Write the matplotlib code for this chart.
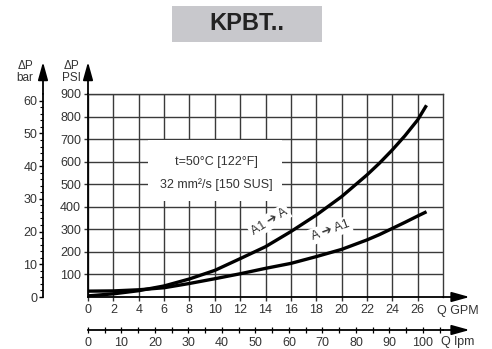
import matplotlib.pyplot as plt
from matplotlib.patches import Rectangle
import numpy as np

plt.rcParams["font.family"] = ["Liberation Sans", "DejaVu Sans"]
plt.rcParams["font.size"] = 9
plt.rcParams["text.color"] = "#333333"

# flow in GPM and pressure drop in PSI
flow_gpm = [0, 2, 4, 6, 8, 10, 12, 14, 16, 18, 20, 22, 23, 24, 25, 26, 26.7]
dp_a1_to_a = [5, 14, 28, 49, 80, 118, 170, 223, 290, 363, 445, 541, 594, 652, 715, 785, 850]
dp_a_to_a1 = [26, 27, 32, 41, 60, 81, 103, 127, 149, 179, 211, 253, 277, 304, 331, 359, 378]

gpm_ticks = list(range(0, 28, 2))
psi_ticks = list(range(100, 1000, 100))
bar_ticks = list(range(0, 70, 10))
lpm_ticks = list(range(0, 110, 10))

PSI_PER_BAR = 14.5038
LPM_PER_GPM = 3.78541

W, H = 492, 349
def fx(px):
    return px / W
def fy(py):
    return 1 - py / H

fig = plt.figure(figsize=(W / 100, H / 100), dpi=100)

# title box
fig.patches.append(Rectangle((fx(172), fy(42)), fx(322) - fx(172), fy(6) - fy(42),
                             transform=fig.transFigure, fc="#c8c8cc", ec="none"))
fig.text(fx(247), fy(24), "KPBT..", ha="center", va="center",
         fontsize=17, fontweight="bold", color="#222222")

# main chart
ax = fig.add_axes([fx(88), fy(297), fx(443) - fx(88), fy(94) - fy(297)])
ax.set_xlim(0, 28)
ax.set_ylim(0, 900)
ax.set_xticks(gpm_ticks)
ax.set_yticks(psi_ticks)
ax.grid(True, which="major", color="#3a3a3a", lw=1.0)
for s in ax.spines.values():
    s.set_color("#3a3a3a")
    s.set_linewidth(1.0)
ax.spines["left"].set_color("black")
ax.spines["bottom"].set_color("black")
ax.spines["left"].set_linewidth(1.3)
ax.spines["bottom"].set_linewidth(1.3)
ax.tick_params(axis="both", which="major", length=3, width=1, color="#333333",
               labelcolor="#333333", labelsize=9, pad=2)

ax.plot(flow_gpm, dp_a1_to_a, color="black", lw=2.4, zorder=5, solid_capstyle="butt")
ax.plot(flow_gpm, dp_a_to_a1, color="black", lw=2.4, zorder=5, solid_capstyle="butt")

# white label box with conditions
ax.add_patch(Rectangle((4.7, 425), 10.6, 270, fc="white", ec="none", zorder=3))
ax.text(10.1, 600, "t=50°C [122°F]", ha="center", va="center", fontsize=9, zorder=4)
ax.text(10.1, 500, "32 mm²/s [150 SUS]", ha="center", va="center", fontsize=9, zorder=4)

box = dict(fc="white", ec="none", pad=1.5)
ax.text(14.3, 335, "A1 \u2794 A", rotation=32, ha="center", va="center",
        fontsize=9, bbox=box, zorder=4, family=["Liberation Sans", "DejaVu Sans"])
ax.text(19.1, 295, "A \u2794 A1", rotation=20, ha="center", va="center",
        fontsize=9, bbox=box, zorder=4, family=["Liberation Sans", "DejaVu Sans"])

arrow = dict(arrowstyle="-|>,head_length=0.9,head_width=0.25", color="black",
             lw=1.3, shrinkA=0, shrinkB=0, mutation_scale=12)
ax.annotate("", xy=(0, 1042), xytext=(0, 900), arrowprops=arrow, annotation_clip=False)
ax.annotate("", xy=(30.1, 0), xytext=(28, 0), arrowprops=arrow, annotation_clip=False)

# bar axis on the far left
axb = fig.add_axes([fx(43), fy(297), 0.01, fy(94) - fy(297)])
axb.set_ylim(0, 900 / PSI_PER_BAR)
axb.set_yticks(bar_ticks)
axb.set_yticks(range(0, 62, 2), minor=True)
axb.set_xticks([])
axb.patch.set_visible(False)
for k in ["top", "right", "bottom"]:
    axb.spines[k].set_visible(False)
axb.spines["left"].set_linewidth(1.3)
axb.tick_params(axis="y", which="major", length=3, width=1, labelsize=9,
                labelcolor="#333333", pad=1)
axb.tick_params(axis="y", which="minor", length=2.5, width=0.8)
axb.annotate("", xy=(0, 1042 / PSI_PER_BAR), xytext=(0, 900 / PSI_PER_BAR),
             xycoords=axb.get_yaxis_transform(), textcoords=axb.get_yaxis_transform(),
             arrowprops=arrow, annotation_clip=False)

# lpm axis at the bottom
axl = fig.add_axes([fx(88), fy(330), fx(443) - fx(88), 0.001])
axl.set_xlim(0, 28 * LPM_PER_GPM)
axl.set_xticks(lpm_ticks)
axl.set_xticks(range(0, 106, 5), minor=True)
axl.set_yticks([])
axl.patch.set_visible(False)
for k in ["top", "right", "left"]:
    axl.spines[k].set_visible(False)
axl.spines["bottom"].set_linewidth(1.3)
axl.tick_params(axis="x", which="both", direction="inout", length=4, width=0.9,
                labelsize=9, labelcolor="#333333", pad=3)
axl.annotate("", xy=(30.1 * LPM_PER_GPM, 0), xytext=(28 * LPM_PER_GPM, 0),
             xycoords=axl.get_xaxis_transform(), textcoords=axl.get_xaxis_transform(),
             arrowprops=arrow, annotation_clip=False)

# axis names
fig.text(fx(25), fy(72), "\u0394P\nbar", ha="center", va="center", fontsize=8.5, linespacing=1.1)
fig.text(fx(71), fy(72), "\u0394P\nPSI", ha="center", va="center", fontsize=8.5, linespacing=1.1)
fig.text(fx(437), fy(311), "Q GPM", ha="left", va="center", fontsize=9)
fig.text(fx(441), fy(342), "Q lpm", ha="left", va="center", fontsize=9)

fig.savefig("out.png", dpi=100)
